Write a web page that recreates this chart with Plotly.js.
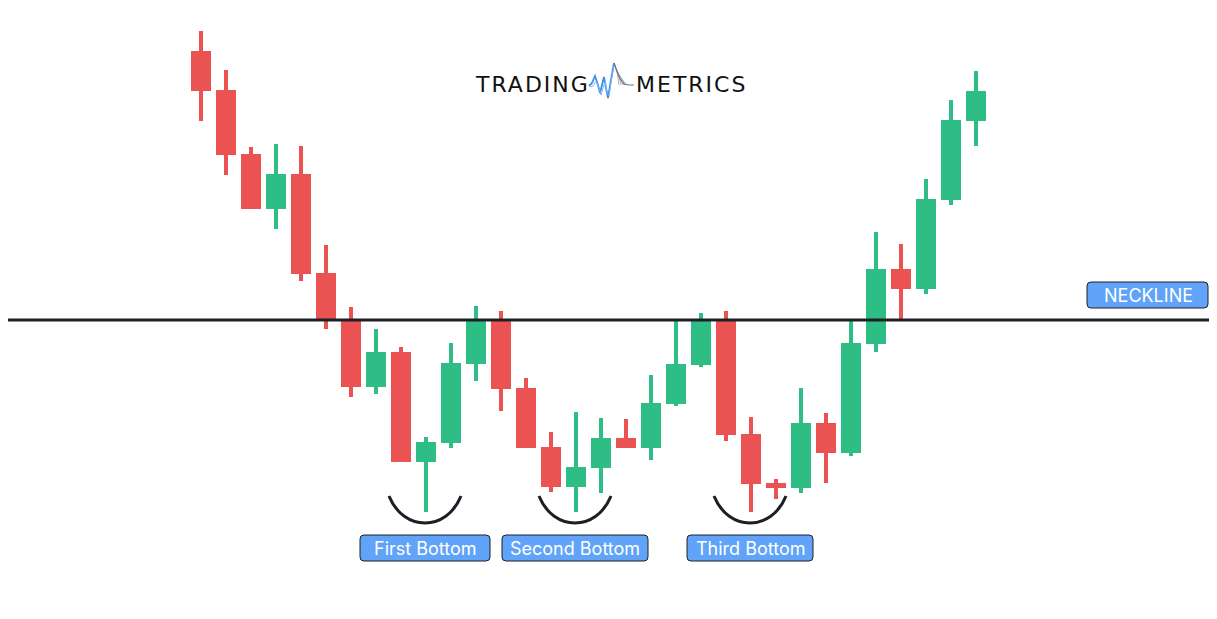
<!DOCTYPE html>
<html>
<head>
<meta charset="utf-8">
<script src="https://cdn.plot.ly/plotly-3.0.1.min.js"></script>
<style>html,body{margin:0;padding:0;background:#fff;}#chart{width:1217px;height:619px;}</style>
</head>
<body>
<div id="chart"></div>
<script>
// ---- data (price units) ----
const candleIndex = [0,1,2,3,4,5,6,7,8,9,10,11,12,13,14,15,16,17,18,19,20,21,22,23,24,25,26,27,28,29,30,31];
const openPrices  = [568,529,465,410,445,346,299,232,267,157,176,255,298,231,172,132,151,181,171,215,254,298,185,136,131,196,166,275,350,330,419,498];
const highPrices  = [588,549,472,475,473,374,312,290,272,182,276,313,308,241,187,207,201,200,244,299,306,308,202,140,231,206,299,387,375,440,519,548];
const lowPrices   = [498,444,410,390,338,290,222,225,157,107,171,238,208,171,127,107,126,171,159,213,252,178,107,120,126,136,163,267,300,325,414,473];
const closePrices = [528,464,410,445,345,300,232,267,157,177,256,298,230,171,132,152,181,171,216,255,298,184,135,131,196,166,276,350,330,420,499,528];
const necklineLevel = 299;
const bottomLabels = ["First Bottom", "Second Bottom", "Third Bottom"];
const necklineLabel = "NECKLINE";
const brandLeft = "TRADING";
const brandRight = "METRICS";

// ---- styling ----
const UP = "#2ebd85", DOWN = "#eb5353", INK = "#1c1f26", BLUE = "#60a3f8";
const W = 1217, H = 619;
const X = px => px / W;
const Y = py => 1 - py / H;

const isUp = candleIndex.map((_, i) => closePrices[i] >= openPrices[i]);
const bodyBase = candleIndex.map((_, i) => Math.min(openPrices[i], closePrices[i]));
const bodyLen = candleIndex.map((_, i) => Math.max(Math.abs(closePrices[i] - openPrices[i]), 1));
const bodyColor = isUp.map(u => u ? UP : DOWN);

function wickTrace(up) {
  const xs = [], ys = [];
  candleIndex.forEach((c, i) => {
    if (isUp[i] === up) { xs.push(c, c, null); ys.push(lowPrices[i], highPrices[i], null); }
  });
  return {type: "scatter", mode: "lines", x: xs, y: ys, hoverinfo: "skip",
          line: {color: up ? UP : DOWN, width: 4}, showlegend: false};
}

const bodies = {
  type: "bar", x: candleIndex, base: bodyBase, y: bodyLen, width: 0.8,
  marker: {color: bodyColor, line: {width: 0}},
  customdata: candleIndex.map((_, i) => [openPrices[i], highPrices[i], lowPrices[i], closePrices[i]]),
  hovertemplate: "O %{customdata[0]}<br>H %{customdata[1]}<br>L %{customdata[2]}<br>C %{customdata[3]}<extra></extra>",
  showlegend: false
};

// ---- decorations (pixel positions converted to paper) ----
function roundRect(x0, y0, x1, y1, r) {
  const p = (x, y) => X(x) + "," + Y(y);
  return "M" + p(x0 + r, y0) + " L" + p(x1 - r, y0) + " Q" + p(x1, y0) + " " + p(x1, y0 + r) +
         " L" + p(x1, y1 - r) + " Q" + p(x1, y1) + " " + p(x1 - r, y1) +
         " L" + p(x0 + r, y1) + " Q" + p(x0, y1) + " " + p(x0, y1 - r) +
         " L" + p(x0, y0 + r) + " Q" + p(x0, y0) + " " + p(x0 + r, y0) + " Z";
}
function arc(x0, x1, yTop, yBot) {
  const p = (x, y) => X(x) + "," + Y(y);
  const d = (yBot - yTop) / 0.75, w = x1 - x0;
  return "M" + p(x0, yTop) + " C" + p(x0 + 0.2 * w, yTop + d) + " " + p(x1 - 0.2 * w, yTop + d) + " " + p(x1, yTop);
}
function poly(pts) {
  return pts.map((q, i) => (i ? "L" : "M") + X(q[0]) + "," + Y(q[1])).join(" ");
}

const labelBoxes = [[360, 535, 490, 561], [502, 535, 648, 561], [687, 535, 813, 561]];
const arcs = [[389, 461], [539, 611], [714, 786]];

const shapes = [];
arcs.forEach(a => shapes.push({type: "path", xref: "paper", yref: "paper", path: arc(a[0], a[1], 496, 523),
  line: {color: INK, width: 3}}));
shapes.push({type: "line", xref: "paper", yref: "y", x0: X(8), x1: X(1209), y0: necklineLevel, y1: necklineLevel,
  line: {color: INK, width: 3}});
labelBoxes.forEach(b => shapes.push({type: "path", xref: "paper", yref: "paper", path: roundRect(b[0], b[1], b[2], b[3], 4),
  fillcolor: BLUE, line: {color: INK, width: 1}}));
shapes.push({type: "path", xref: "paper", yref: "paper", path: roundRect(1087, 282, 1208, 308, 4),
  fillcolor: BLUE, line: {color: INK, width: 1}});

// logo wave
shapes.push({type: "path", xref: "paper", yref: "paper", line: {color: "#3d8fe3", width: 1.8},
  path: poly([[589,86],[592,83],[595,76],[598,85],[600,93],[602,85],[604,77],[606,88],[608,98],[611,80],[614,63]])});
shapes.push({type: "path", xref: "paper", yref: "paper", line: {color: "#7fb6ee", width: 1},
  path: poly([[590,87],[593,86],[596,81],[599,88],[601,95],[603,88],[605,82],[607,92],[609,96],[612,76],[614,66]])});
[[617,72],[619,76],[621,79],[623,81],[625,83]].forEach((q, k) => shapes.push({type: "path", xref: "paper", yref: "paper",
  line: {color: "#9aa0a8", width: 0.8}, path: poly([[614 + k * 0.5, 63 + k * 2], q, [q[0] + 2, 85]])}));
shapes.push({type: "path", xref: "paper", yref: "paper", line: {color: "#6f747c", width: 1.2},
  path: poly([[614,63],[617,71],[620,79],[624,84],[629,85],[634,85]])});

const lblFont = {family: "Inter, Roboto, sans-serif", size: 18, color: "#ffffff"};
const annotations = [];
labelBoxes.forEach((b, i) => annotations.push({xref: "paper", yref: "paper", x: X((b[0] + b[2]) / 2), y: Y((b[1] + b[3]) / 2),
  text: bottomLabels[i], showarrow: false, xanchor: "center", yanchor: "middle", font: lblFont}));
annotations.push({xref: "paper", yref: "paper", x: X(1148), y: Y(295), text: necklineLabel, showarrow: false,
  xanchor: "center", yanchor: "middle", font: lblFont});
const brandFont = {family: "DejaVu Sans, sans-serif", size: 22, color: "#111111"};
annotations.push({xref: "paper", yref: "paper", x: X(532), y: Y(84), text: brandLeft, showarrow: false,
  xanchor: "center", yanchor: "middle", font: brandFont});
annotations.push({xref: "paper", yref: "paper", x: X(691), y: Y(84), text: brandRight, showarrow: false,
  xanchor: "center", yanchor: "middle", font: brandFont});

const layout = {
  width: W, height: H, margin: {l: 0, r: 0, t: 0, b: 0, pad: 0},
  paper_bgcolor: "#ffffff", plot_bgcolor: "#ffffff", showlegend: false,
  xaxis: {range: [-8.04, 40.64], visible: false, fixedrange: true},
  yaxis: {range: [0, 619], visible: false, fixedrange: true},
  shapes: shapes, annotations: annotations, hovermode: "closest"
};

Plotly.newPlot("chart", [bodies, wickTrace(false), wickTrace(true)], layout, {displayModeBar: false, staticPlot: true})
  .then(() => {
    document.querySelectorAll("#chart text.annotation-text").forEach(t => {
      if (t.textContent === brandLeft || t.textContent === brandRight) {
        t.style.letterSpacing = "2px";
      }
    });
  });
</script>
</body>
</html>
